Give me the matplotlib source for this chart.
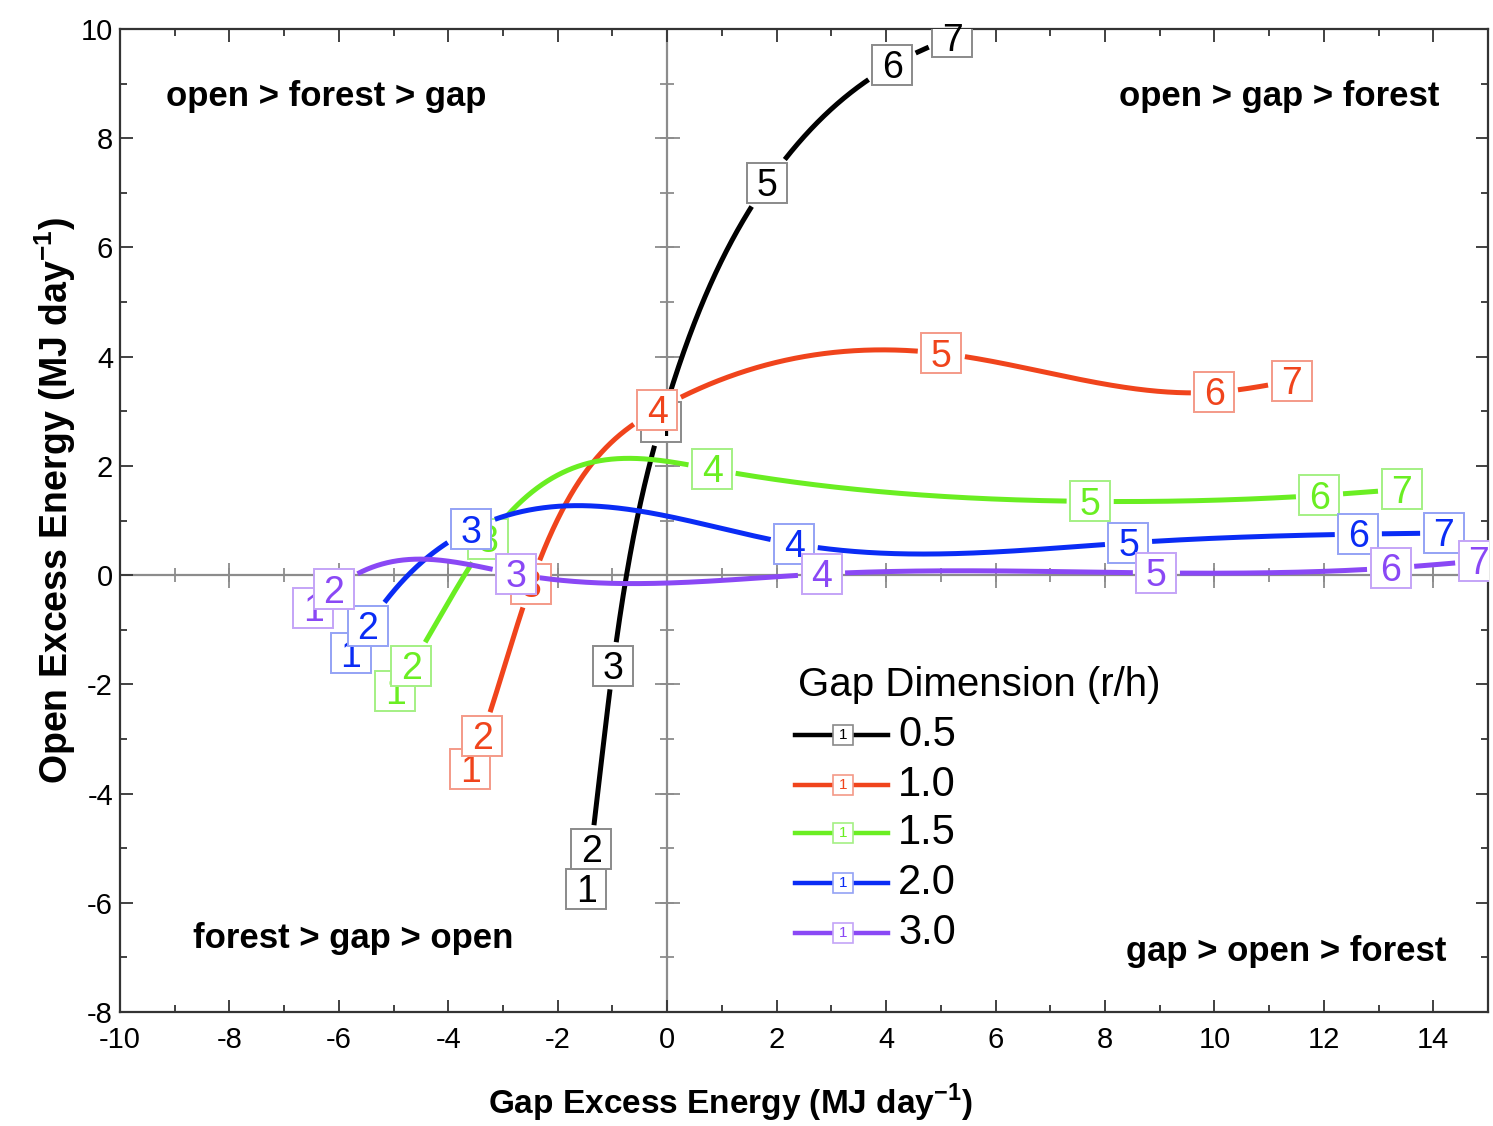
import matplotlib
matplotlib.use('Agg')
import matplotlib.pyplot as plt
import numpy as np

plt.rcParams['font.family'] = ['Liberation Sans', 'DejaVu Sans']
plt.rcParams['mathtext.fontset'] = 'custom'
plt.rcParams['mathtext.rm'] = 'Liberation Sans'
plt.rcParams['mathtext.bf'] = 'Liberation Sans:bold'
plt.rcParams['axes.unicode_minus'] = False

# gap excess energy (x) and open excess energy (y), points 1..7 per gap dimension
gap_dims = ['0.5', '1.0', '1.5', '2.0', '3.0']
gap_x = {
    '0.5': [-1.48, -1.39, -0.99, -0.11, 1.83, 4.11, 5.21],
    '1.0': [-3.60, -3.38, -2.49, -0.18, 5.01, 10.00, 11.41],
    '1.5': [-4.97, -4.68, -3.27, 0.82, 7.73, 11.92, 13.42],
    '2.0': [-5.78, -5.47, -3.58, 2.32, 8.43, 12.63, 14.19],
    '3.0': [-6.47, -6.09, -2.76, 2.82, 8.94, 13.22, 14.83],
}
open_y = {
    '0.5': [-5.74, -5.01, -1.66, 2.80, 7.18, 9.34, 9.85],
    '1.0': [-3.55, -2.94, -0.16, 3.03, 4.06, 3.35, 3.56],
    '1.5': [-2.12, -1.66, 0.66, 1.94, 1.35, 1.46, 1.57],
    '2.0': [-1.43, -0.93, 0.84, 0.57, 0.59, 0.75, 0.77],
    '3.0': [-0.60, -0.26, 0.02, 0.02, 0.04, 0.13, 0.26],
}
point_labels = ['1', '2', '3', '4', '5', '6', '7']
line_colors = {'0.5': '#000000', '1.0': '#f0441c', '1.5': '#6aee22',
               '2.0': '#0a2cf5', '3.0': '#8a48f5'}
box_colors = {'0.5': '#8a8a8a', '1.0': '#f49a88', '1.5': '#a4f084',
              '2.0': '#94a2f5', '3.0': '#c4a4f7'}
quadrants = [('open > forest > gap', -6.23, 8.76), ('open > gap > forest', 11.19, 8.76),
             ('forest > gap > open', -5.74, -6.65), ('gap > open > forest', 11.32, -6.89)]


def natural_spline(t, v, tt):
    n = len(t)
    h = np.diff(t)
    A = np.zeros((n, n))
    b = np.zeros(n)
    A[0, 0] = A[-1, -1] = 1.0
    for i in range(1, n - 1):
        A[i, i - 1] = h[i - 1]
        A[i, i] = 2 * (h[i - 1] + h[i])
        A[i, i + 1] = h[i]
        b[i] = 6 * ((v[i + 1] - v[i]) / h[i] - (v[i] - v[i - 1]) / h[i - 1])
    m = np.linalg.solve(A, b)
    k = np.clip(np.searchsorted(t, tt) - 1, 0, n - 2)
    d = tt - t[k]
    hk = h[k]
    a = (m[k + 1] - m[k]) / (6 * hk)
    c = (v[k + 1] - v[k]) / hk - hk * (2 * m[k] + m[k + 1]) / 6
    return v[k] + c * d + m[k] / 2 * d ** 2 + a * d ** 3


def smooth_curve(x, y, gap=0.43):
    x = np.asarray(x)
    y = np.asarray(y)
    # spline of y against x, sampled densely along the curve length
    xs = np.linspace(x[0], x[-1], 20000)
    ys = natural_spline(x, y, xs)
    near = np.zeros_like(xs, dtype=bool)
    for px, py in zip(x, y):
        near |= np.maximum(abs(xs - px), abs(ys - py)) < gap
    xs[near] = np.nan
    ys[near] = np.nan
    return xs, ys


fig = plt.figure(figsize=(14.93, 11.26), dpi=100)
ax = fig.add_axes([120 / 1493, 1 - 1012 / 1126, 1368 / 1493, 983 / 1126])

ax.axhline(0, color='#8c8c8c', lw=1.6, zorder=1)
ax.axvline(0, color='#8c8c8c', lw=1.6, zorder=1)
# tick marks along the zero lines
maj_x = np.arange(-10, 15, 2)
maj_y = np.arange(-8, 11, 2)
min_x = np.arange(-10, 16, 1)
min_y = np.arange(-8, 11, 1)
ax.plot(np.zeros(len(maj_y)), maj_y, ls='none', marker='_', ms=18, mew=1.3, color='#8c8c8c', zorder=1)
ax.plot(np.zeros(len(min_y)), min_y, ls='none', marker='_', ms=10, mew=1.3, color='#8c8c8c', zorder=1)
ax.plot(maj_x, np.zeros(len(maj_x)), ls='none', marker='|', ms=18, mew=1.3, color='#8c8c8c', zorder=1)
ax.plot(min_x, np.zeros(len(min_x)), ls='none', marker='|', ms=10, mew=1.3, color='#8c8c8c', zorder=1)

for i, g in enumerate(gap_dims):
    z = 3 + i * 3
    xs, ys = smooth_curve(gap_x[g], open_y[g])
    ax.plot(xs, ys, color=line_colors[g], lw=3.6, solid_capstyle='butt', zorder=z)
    for j, lab in enumerate(point_labels):
        ax.plot(gap_x[g][j], open_y[g][j], 's', ms=28.5, mfc='white',
                mec=box_colors[g], mew=1.4, zorder=z + 1 + j * 0.01)
        ax.annotate(lab, (gap_x[g][j], open_y[g][j]), xytext=(0, -9.6),
                    textcoords='offset points', ha='center', va='baseline',
                    fontsize=27, color=line_colors[g], zorder=z + 1.005 + j * 0.01)

for txt, qx, qy in quadrants:
    ax.text(qx, qy, txt, ha='center', va='center', fontsize=25, fontweight='bold')

# legend drawn by hand
ax.text(0.4956, 0.3327, 'Gap Dimension (r/h)', transform=ax.transAxes,
        ha='left', va='center', fontsize=29)
leg_y = [0.2818, 0.2309, 0.1821, 0.1312, 0.0804]
for g, ly in zip(gap_dims, leg_y):
    ax.plot([0.4934, 0.5614], [ly, ly], color=line_colors[g], lw=3.2,
            transform=ax.transAxes, zorder=20)
    ax.plot([0.5285], [ly], 's', ms=14, mfc='white', mec=box_colors[g], mew=1.2,
            transform=ax.transAxes, zorder=21)
    ax.text(0.5285, ly, '1', transform=ax.transAxes, ha='center', va='center',
            fontsize=11, color=line_colors[g], zorder=22)
    ax.text(0.5687, ly, g, transform=ax.transAxes, ha='left', va='center',
            fontsize=30, zorder=22)

ax.set_xlim(-10, 15)
ax.set_ylim(-8, 10)
ax.set_xticks(maj_x)
ax.set_yticks(maj_y)
ax.set_xticks(min_x, minor=True)
ax.set_yticks(min_y, minor=True)
ax.tick_params(which='both', direction='in', top=True, right=True, width=1.3,
               color='#333333')
ax.tick_params(which='major', length=9, labelsize=21)
ax.tick_params(which='minor', length=5)
ax.tick_params(axis='x', pad=10)
ax.tick_params(axis='y', pad=5)
for sp in ax.spines.values():
    sp.set_linewidth(1.6)
    sp.set_color('#333333')

fig.text(730 / 1493, 1 - 1103 / 1126, r'Gap Excess Energy (MJ day$^{\mathbf{-1}}$)',
         ha='center', va='center', fontsize=24, fontweight='bold')
fig.text(55 / 1493, 1 - 500 / 1126, r'Open Excess Energy (MJ day$^{\mathbf{-1}}$)',
         ha='center', va='center', fontsize=27, fontweight='bold', rotation=90)

fig.savefig('out.png', dpi=100)
